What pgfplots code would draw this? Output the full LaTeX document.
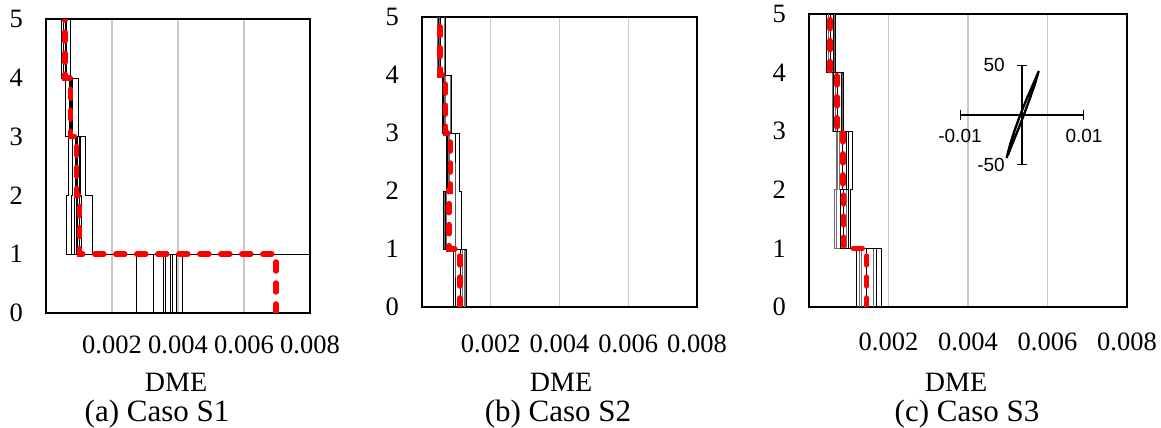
\documentclass[border=0pt]{standalone}
\usepackage{pgfplots}
\pgfplotsset{compat=1.18}
\usepackage{fontspec}
\setmainfont{Liberation Serif}
\newfontfamily\arialf{Liberation Sans}
\definecolor{gridc}{RGB}{200,200,200}
\definecolor{redm}{RGB}{255,0,0}
\definecolor{grayl}{RGB}{110,110,110}
\pgfplotsset{
 panel/.style={
  anchor=south west, scale only axis,
  xmin=0, xmax=0.008, ymin=0, ymax=5,
  scaled ticks=false,
  xtick={0.002,0.004,0.006,0.008},
  xticklabels={0.002,0.004,0.006,0.008},
  ytick={0,1,2,3,4,5}, yticklabels={0,1,2,3,4,5},
  major tick length=0pt,
  xmajorgrids, major grid style={gridc, line width=1.3bp},
  axis line style={line width=2.2bp},
  tick label style={font=\fontsize{26.5bp}{27bp}\selectfont},
  yticklabel style={anchor=east, inner sep=0pt, xshift=-23bp},
  xticklabel style={anchor=base, inner sep=0pt},
 },
 prof/.style={black, line width=0.6bp},
 profg/.style={grayl, line width=0.8bp},
 mean/.style={redm, line width=5.5bp, line cap=round, dash pattern=on 9bp off 12bp},
}
\begin{document}
\begin{tikzpicture}
\useasboundingbox (0,0) rectangle (1161bp,428bp);
% ---------------- (a) Caso S1
\begin{axis}[panel, at={(46bp,115bp)}, width=264bp, height=294bp,
  xticklabel style={yshift=-40bp}]
\addplot[prof] coordinates {(0.00275,0)(0.00275,1)(0.00063,1)(0.00063,2)(0.00068,2)(0.00068,3)(0.00058,3)(0.00058,4)(0.00045,4)(0.00045,5)};
\addplot[prof] coordinates {(0.00325,0)(0.00325,1)(0.00078,1)(0.00078,2)(0.00081,2)(0.00081,3)(0.00071,3)(0.00071,4)(0.00053,4)(0.00053,5)};
\addplot[prof] coordinates {(0.00355,0)(0.00355,1)(0.00086,1)(0.00086,2)(0.00088,2)(0.00088,3)(0.00074,3)(0.00074,4)(0.00058,4)(0.00058,5)};
\addplot[prof] coordinates {(0.00363,0)(0.00363,1)(0.00093,1)(0.00093,2)(0.00096,2)(0.00096,3)(0.00076,3)(0.00076,4)(0.00058,4)(0.00058,5)};
\addplot[prof] coordinates {(0.00376,0)(0.00376,1)(0.00101,1)(0.00101,2)(0.00093,2)(0.00093,3)(0.00080,3)(0.00080,4)(0.00060,4)(0.00060,5)};
\addplot[prof] coordinates {(0.00383,0)(0.00383,1)(0.00106,1)(0.00106,2)(0.00103,2)(0.00103,3)(0.00078,3)(0.00078,4)(0.00062,4)(0.00062,5)};
\addplot[prof] coordinates {(0.00396,0)(0.00396,1)(0.00106,1)(0.00106,2)(0.00100,2)(0.00100,3)(0.00080,3)(0.00080,4)(0.00060,4)(0.00060,5)};
\addplot[prof] coordinates {(0.00413,0)(0.00413,1)(0.00141,1)(0.00141,2)(0.00120,2)(0.00120,3)(0.00098,3)(0.00098,4)(0.00073,4)(0.00073,5)};
\addplot[prof] coordinates {(0.03000,0)(0.03000,1)(0.00095,1)(0.00095,2)(0.00094,2)(0.00094,3)(0.00075,3)(0.00075,4)(0.00057,4)(0.00057,5)};
\addplot[mean] coordinates {(0.00697,0)(0.00697,1)(0.00101,1)(0.00101,2)(0.00093,2)(0.00093,3)(0.00075,3)(0.00075,4)(0.00057,4)(0.00057,5)};
\end{axis}
% ---------------- (b) Caso S2
\begin{axis}[panel, at={(422bp,121bp)}, width=275bp, height=290bp,
  xticklabel style={yshift=-45bp}]
\addplot[profg] coordinates {(0.00118,0)(0.00118,1)(0.00062,1)(0.00062,2)(0.00070,2)(0.00070,3)(0.00060,3)(0.00060,4)(0.00046,4)(0.00046,5)};
\addplot[profg] coordinates {(0.00122,0)(0.00122,1)(0.00065,1)(0.00065,2)(0.00075,2)(0.00075,3)(0.00065,3)(0.00065,4)(0.00050,4)(0.00050,5)};
\addplot[profg] coordinates {(0.00126,0)(0.00126,1)(0.00070,1)(0.00070,2)(0.00078,2)(0.00078,3)(0.00068,3)(0.00068,4)(0.00052,4)(0.00052,5)};
\addplot[profg] coordinates {(0.00130,0)(0.00130,1)(0.00072,1)(0.00072,2)(0.00080,2)(0.00080,3)(0.00084,3)(0.00084,4)(0.00065,4)(0.00065,5)};
\addplot[prof] coordinates {(0.00112,0)(0.00112,1)(0.00068,1)(0.00068,2)(0.00073,2)(0.00073,3)(0.00063,3)(0.00063,4)(0.00048,4)(0.00048,5)};
\addplot[prof] coordinates {(0.00091,0)(0.00091,1)(0.00115,1)(0.00115,2)(0.00109,2)(0.00109,3)(0.00086,3)(0.00086,4)(0.00067,4)(0.00067,5)};
\addplot[prof] coordinates {(0.00096,0)(0.00096,1)(0.00096,1)(0.00096,2)(0.00096,2)(0.00096,3)(0.00062,3)(0.00062,4)(0.00046,4)(0.00046,5)};
\addplot[prof] coordinates {(0.00130,0)(0.00130,1)(0.00062,1)(0.00062,2)(0.00070,2)(0.00070,3)(0.00060,3)(0.00060,4)(0.00052,4)(0.00052,5)};
\addplot[mean] coordinates {(0.00110,0)(0.00110,1)(0.00079,1)(0.00079,2)(0.00083,2)(0.00083,3)(0.00068,3)(0.00068,4)(0.00052,4)(0.00052,5)};
\end{axis}
% ---------------- (c) Caso S3
\begin{axis}[panel, at={(809bp,121bp)}, width=318bp, height=293bp,
  xticklabel style={yshift=-43bp}]
\addplot[profg] coordinates {(0.00126,0)(0.00126,1)(0.00064,1)(0.00064,2)(0.00070,2)(0.00070,3)(0.00060,3)(0.00060,4)(0.00044,4)(0.00044,5)};
\addplot[profg] coordinates {(0.00133,0)(0.00133,1)(0.00070,1)(0.00070,2)(0.00072,2)(0.00072,3)(0.00066,3)(0.00066,4)(0.00050,4)(0.00050,5)};
\addplot[profg] coordinates {(0.00162,0)(0.00162,1)(0.00095,1)(0.00095,2)(0.00076,2)(0.00076,3)(0.00084,3)(0.00084,4)(0.00065,4)(0.00065,5)};
\addplot[prof] coordinates {(0.00120,0)(0.00120,1)(0.00105,1)(0.00105,2)(0.00109,2)(0.00109,3)(0.00086,3)(0.00086,4)(0.00065,4)(0.00065,5)};
\addplot[prof] coordinates {(0.00145,0)(0.00145,1)(0.00078,1)(0.00078,2)(0.00085,2)(0.00085,3)(0.00070,3)(0.00070,4)(0.00053,4)(0.00053,5)};
\addplot[prof] coordinates {(0.00170,0)(0.00170,1)(0.00086,1)(0.00086,2)(0.00100,2)(0.00100,3)(0.00080,3)(0.00080,4)(0.00060,4)(0.00060,5)};
\addplot[prof] coordinates {(0.00181,0)(0.00181,1)(0.00100,1)(0.00100,2)(0.00093,2)(0.00093,3)(0.00062,3)(0.00062,4)(0.00044,4)(0.00044,5)};
\addplot[mean] coordinates {(0.00145,0)(0.00145,1)(0.00087,1)(0.00087,2)(0.00085,2)(0.00085,3)(0.00070,3)(0.00070,4)(0.00053,4)(0.00053,5)};
\end{axis}
% ---------------- inset hysteresis
\begin{axis}[at={(960bp,263bp)}, anchor=south west, scale only axis,
  width=124bp, height=100bp,
  xmin=-0.01, xmax=0.01, ymin=-50, ymax=50,
  scaled ticks=false,
  axis lines=middle,
  every inner x axis line/.append style={|-|},
  every inner y axis line/.append style={|-|},
  axis line style={line width=1.3bp, black},
  major tick length=0pt,
  xtick={-0.01,0.01}, xticklabels={-0.01,0.01},
  ytick={-50,50}, yticklabels={-50,50},
  tick label style={font=\arialf\fontsize{19bp}{20bp}\selectfont},
  xticklabel style={anchor=north, inner sep=0pt, yshift=-14bp},
  yticklabel style={anchor=east, inner sep=0pt, xshift=-17bp},
  clip=false]
\addplot[black, line width=2.2bp] coordinates {(-0.0025,-43)(-0.0018,-32)(-0.0008,-17)(0.0003,0)(0.0013,17)(0.0021,31)(0.0027,44)(0.0018,31)(0.0008,17)(-0.0003,0)(-0.0013,-17)(-0.0020,-31)(-0.0025,-43)};
\addplot[black, line width=1.6bp] coordinates {(-0.0022,-40)(-0.0016,-30)(-0.0006,-15)(0.0002,-1)(0.0012,16)(0.0020,30)(0.0026,42)(0.0019,32)(0.0009,18)(-0.0002,1)(-0.0012,-16)(-0.0019,-29)(-0.0022,-40)};
\end{axis}
% ---------------- labels
\node[anchor=base, font=\fontsize{28bp}{29bp}\selectfont] at (176bp,37bp) {DME};
\node[anchor=base, font=\fontsize{28bp}{29bp}\selectfont] at (561bp,37bp) {DME};
\node[anchor=base, font=\fontsize{28bp}{29bp}\selectfont] at (956bp,37bp) {DME};
\node[anchor=base, font=\fontsize{31bp}{32bp}\selectfont] at (157bp,7bp) {(a) Caso S1};
\node[anchor=base, font=\fontsize{31bp}{32bp}\selectfont] at (558bp,7bp) {(b) Caso S2};
\node[anchor=base, font=\fontsize{31bp}{32bp}\selectfont] at (967bp,7bp) {(c) Caso S3};
\end{tikzpicture}
\end{document}
